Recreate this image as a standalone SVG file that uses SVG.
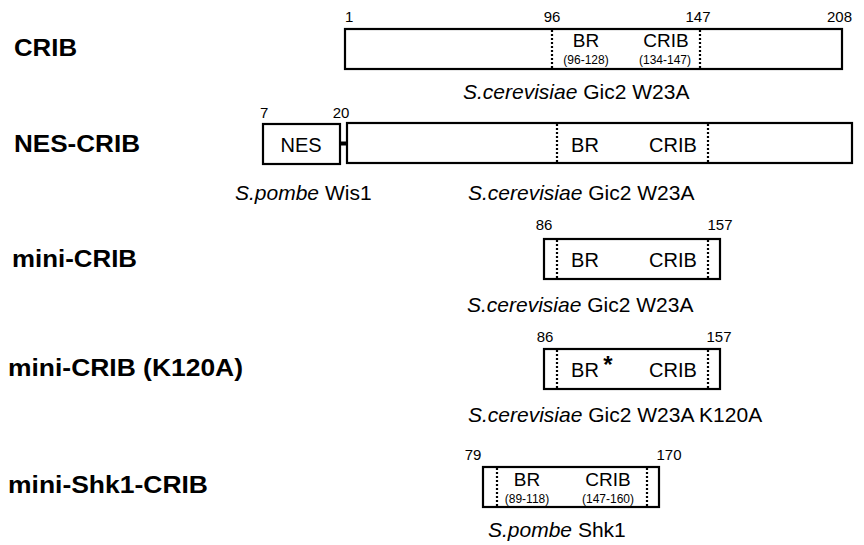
<svg xmlns="http://www.w3.org/2000/svg" width="864" height="545" viewBox="0 0 864 545">
<style>
.box{fill:#fff;stroke:#000;stroke-width:2.2}
.dot{stroke:#000;stroke-width:2.2;stroke-dasharray:2 2;fill:none}
.lbl{font-family:"Liberation Sans",Arial,sans-serif;font-weight:bold;font-size:24px;fill:#000}
.num{font-family:"Liberation Sans",Arial,sans-serif;font-size:15px;fill:#000}
.dom{font-family:"Liberation Sans",Arial,sans-serif;font-size:20px;fill:#000;text-anchor:middle}
.dom2{font-family:"Liberation Sans",Arial,sans-serif;font-size:19px;fill:#000;text-anchor:middle}
.sub{font-family:"Liberation Sans",Arial,sans-serif;font-size:12px;fill:#000;text-anchor:middle}
.cap{font-family:"Liberation Sans",Arial,sans-serif;font-size:21px;fill:#000}
.it{font-style:italic}
.mid{text-anchor:middle}
</style>
<rect width="864" height="545" fill="#fff"/>

<g id="crib">
<text class="lbl" x="14" y="56" textLength="63" lengthAdjust="spacingAndGlyphs">CRIB</text>
<rect class="box" x="345" y="29" width="497" height="40"/>
<line class="dot" x1="552" y1="30" x2="552" y2="68"/>
<line class="dot" x1="700" y1="30" x2="700" y2="68"/>
<text class="num" x="345" y="22">1</text>
<text class="num mid" x="552" y="22">96</text>
<text class="num mid" x="698" y="22">147</text>
<text class="num" x="827" y="22">208</text>
<text class="dom2" x="586" y="47">BR</text>
<text class="sub" x="586" y="64">(96-128)</text>
<text class="dom2" x="666" y="47">CRIB</text>
<text class="sub" x="665" y="64">(134-147)</text>
<text class="cap" x="463" y="99"><tspan class="it">S.cerevisiae</tspan> Gic2 W23A</text>
</g>

<g id="nes-crib">
<text class="lbl" x="14" y="152" textLength="126" lengthAdjust="spacingAndGlyphs">NES-CRIB</text>
<rect class="box" x="263" y="124" width="77" height="40"/>
<rect x="340" y="141.5" width="7" height="4" fill="#000"/>
<rect class="box" x="347" y="123" width="505" height="40"/>
<line class="dot" x1="557" y1="124" x2="557" y2="162"/>
<line class="dot" x1="708" y1="124" x2="708" y2="162"/>
<text class="num" x="260" y="118">7</text>
<text class="num mid" x="341" y="118">20</text>
<text class="dom" x="301" y="152">NES</text>
<text class="dom" x="585" y="152">BR</text>
<text class="dom" x="673" y="152">CRIB</text>
<text class="cap" x="235" y="200"><tspan class="it">S.pombe</tspan> Wis1</text>
<text class="cap" x="468" y="200"><tspan class="it">S.cerevisiae</tspan> Gic2 W23A</text>
</g>

<g id="mini-crib">
<text class="lbl" x="12" y="267" textLength="125" lengthAdjust="spacingAndGlyphs">mini-CRIB</text>
<rect class="box" x="544" y="239" width="176" height="40"/>
<line class="dot" x1="557" y1="240" x2="557" y2="278"/>
<line class="dot" x1="708" y1="240" x2="708" y2="278"/>
<text class="num mid" x="544" y="230">86</text>
<text class="num mid" x="720" y="230">157</text>
<text class="dom" x="585" y="267">BR</text>
<text class="dom" x="673" y="267">CRIB</text>
<text class="cap" x="467" y="312"><tspan class="it">S.cerevisiae</tspan> Gic2 W23A</text>
</g>

<g id="mini-crib-k120a">
<text class="lbl" x="8" y="376" textLength="235" lengthAdjust="spacingAndGlyphs">mini-CRIB (K120A)</text>
<rect class="box" x="544" y="349" width="176" height="40"/>
<line class="dot" x1="557" y1="350" x2="557" y2="388"/>
<line class="dot" x1="708" y1="350" x2="708" y2="388"/>
<text class="num mid" x="545" y="342">86</text>
<text class="num mid" x="719" y="342">157</text>
<text class="dom" x="585" y="377">BR</text>
<text class="dom" x="608" y="373" style="font-weight:bold;font-size:24px">*</text>
<text class="dom" x="673" y="377">CRIB</text>
<text class="cap" x="468" y="422"><tspan class="it">S.cerevisiae</tspan> Gic2 W23A K120A</text>
</g>

<g id="mini-shk1-crib">
<text class="lbl" x="8" y="493" textLength="200" lengthAdjust="spacingAndGlyphs">mini-Shk1-CRIB</text>
<rect class="box" x="483" y="467" width="176" height="40"/>
<line class="dot" x1="497" y1="468" x2="497" y2="506"/>
<line class="dot" x1="647" y1="468" x2="647" y2="506"/>
<text class="num mid" x="473" y="460">79</text>
<text class="num mid" x="669" y="460">170</text>
<text class="dom2" x="527" y="486">BR</text>
<text class="sub" x="527" y="503">(89-118)</text>
<text class="dom2" x="608" y="486">CRIB</text>
<text class="sub" x="608" y="503">(147-160)</text>
<text class="cap" x="488" y="537"><tspan class="it">S.pombe</tspan> Shk1</text>
</g>

<g id="connectors"></g>
</svg>
